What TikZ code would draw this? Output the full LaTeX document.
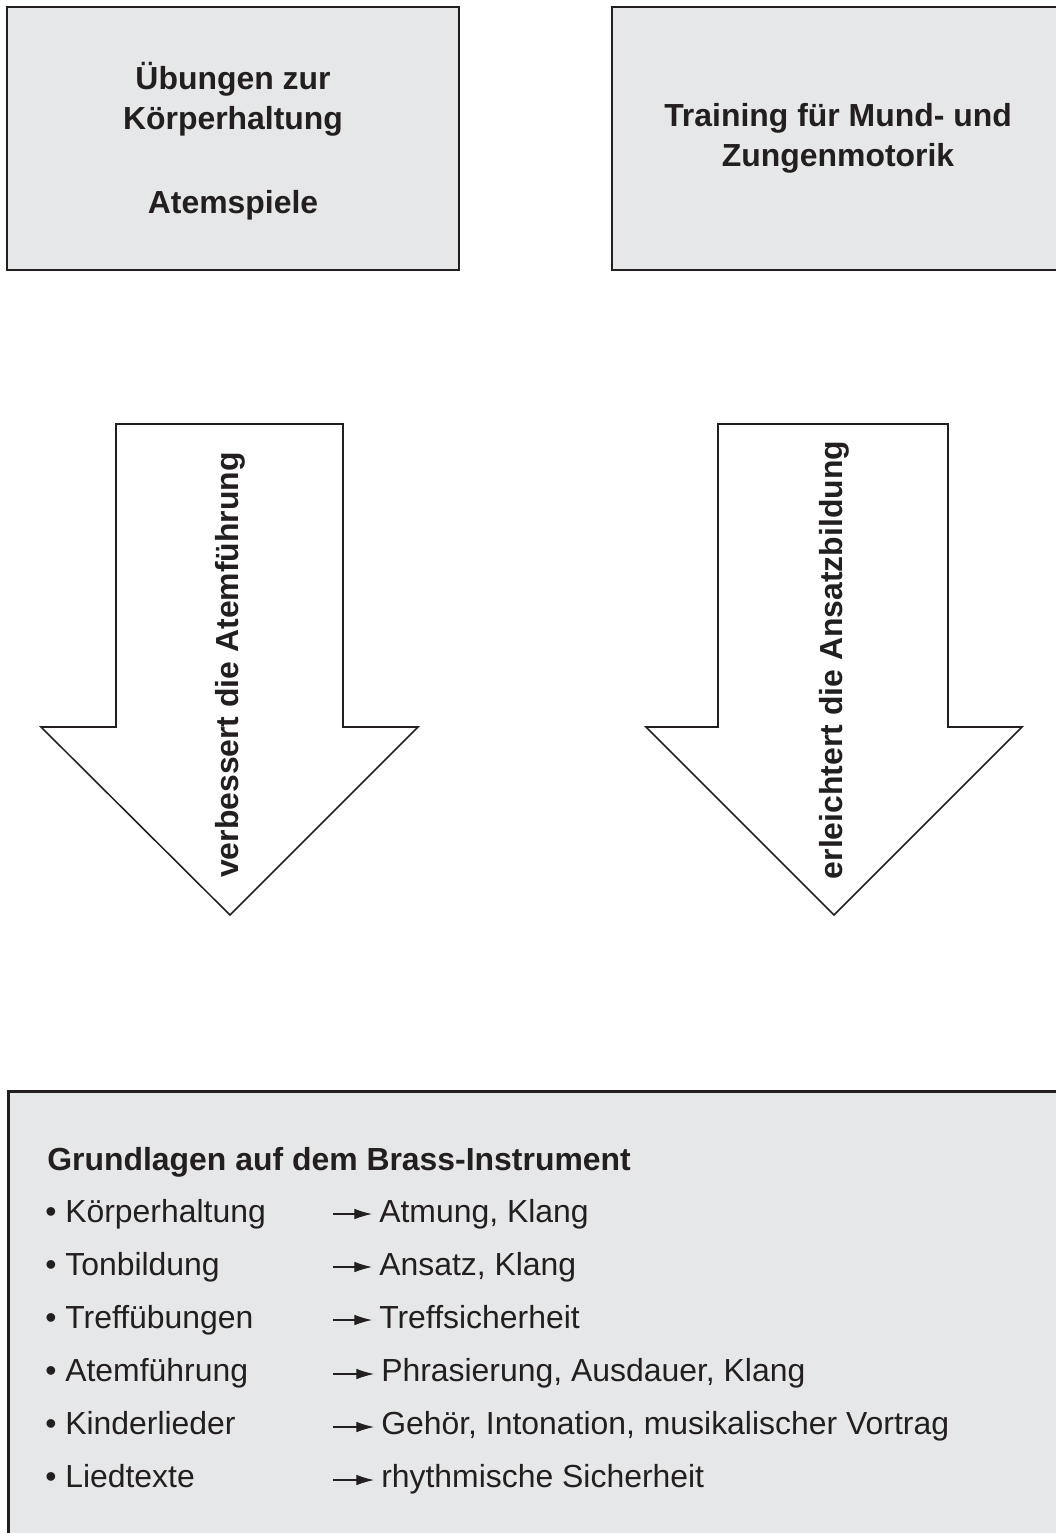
\documentclass[tikz,border=0pt]{standalone}
\usepackage{fontspec}
\setmainfont{Liberation Sans}
\usetikzlibrary{
    arrows.meta,
    positioning,
    calc
}
\definecolor{panelgray}{RGB}{230, 231, 232}
\definecolor{inkdark}{RGB}{35, 31, 32}

\begin{document}
\begin{tikzpicture}[
        x=0.025cm, y=-0.025cm,
        panel/.style={draw=inkdark, line width=1.8pt, fill=panelgray, inner sep=0pt},
        bigarrow/.style={draw=inkdark, line width=1.1pt, fill=white, line join=miter},
        label/.style={font=\fontsize{22.7}{28.5}\selectfont\bfseries, align=center, text=inkdark},
        item/.style={font=\fontsize{22.7}{28.5}\selectfont, anchor=base west, inner sep=0pt, text=inkdark},
        pointer/.style={-{Latex[length=12.5pt, width=7.5pt]}, line width=0.75pt, draw=inkdark, shorten >=5pt}
    ]
        \useasboundingbox (0,0) rectangle (1056,1533);

        % Top boxes
        \node[panel, minimum width=11.3cm, minimum height=6.575cm] (posture) at (233, 138.5) {};
        \node[label] (posturetxt) at (233, 141) {
            Übungen zur\\
            Körperhaltung\\[31pt]
            Atemspiele
        };

        \node[panel, minimum width=11.3cm, minimum height=6.575cm] (mouth) at (838, 138.5) {};
        \node[label] (mouthtxt) at (mouth.center) {
            Training für Mund- und\\
            Zungenmotorik
        };

        % Big arrows
        \draw[bigarrow] (116, 424) -- (343, 424) -- (343, 727) -- (418, 727)
            -- (230, 915) -- (41, 727) -- (116, 727) -- cycle;
        \node[label, rotate=90] (breath) at (230, 665) {verbessert die Atemführung};

        \draw[bigarrow] (718, 424) -- (948, 424) -- (948, 727) -- (1022, 727)
            -- (834, 915) -- (646, 727) -- (718, 727) -- cycle;
        \node[label, rotate=90] (embouchure) at (834, 660) {erleichtert die Ansatzbildung};

        % Bottom box
        \node[panel, anchor=north west, minimum width=26.8cm, minimum height=11.5cm] (basics) at (7, 1090) {};

        \node[item, font=\fontsize{22.7}{28.5}\selectfont\bfseries] (title) at (47, 1170) {Grundlagen auf dem Brass-Instrument};

        % List
        \node[item] (do1) at (45, 1222) {• Körperhaltung};
        \node[item] (do2) at (45, 1275) {• Tonbildung};
        \node[item] (do3) at (45, 1328) {• Treffübungen};
        \node[item] (do4) at (45, 1381) {• Atemführung};
        \node[item] (do5) at (45, 1434) {• Kinderlieder};
        \node[item] (do6) at (45, 1487) {• Liedtexte};

        \node[item] (gain1) at (379, 1222) {Atmung, Klang};
        \node[item] (gain2) at (379, 1275) {Ansatz, Klang};
        \node[item] (gain3) at (379, 1328) {Treffsicherheit};
        \node[item] (gain4) at (381, 1381) {Phrasierung, Ausdauer, Klang};
        \node[item] (gain5) at (381, 1434) {Gehör, Intonation, musikalischer Vortrag};
        \node[item] (gain6) at (381, 1487) {rhythmische Sicherheit};

        % Arrows in the list
        \coordinate (from1) at (333, 1214);
        \coordinate (from2) at (333, 1267);
        \coordinate (from3) at (333, 1320);
        \coordinate (from4) at (333, 1374);
        \coordinate (from5) at (333, 1427);
        \coordinate (from6) at (333, 1480);
        \draw[pointer] (from1) -- (from1 -| gain1.west);
        \draw[pointer] (from2) -- (from2 -| gain2.west);
        \draw[pointer] (from3) -- (from3 -| gain3.west);
        \draw[pointer] (from4) -- (from4 -| gain4.west);
        \draw[pointer] (from5) -- (from5 -| gain5.west);
        \draw[pointer] (from6) -- (from6 -| gain6.west);
    \end{tikzpicture}
\end{document}
